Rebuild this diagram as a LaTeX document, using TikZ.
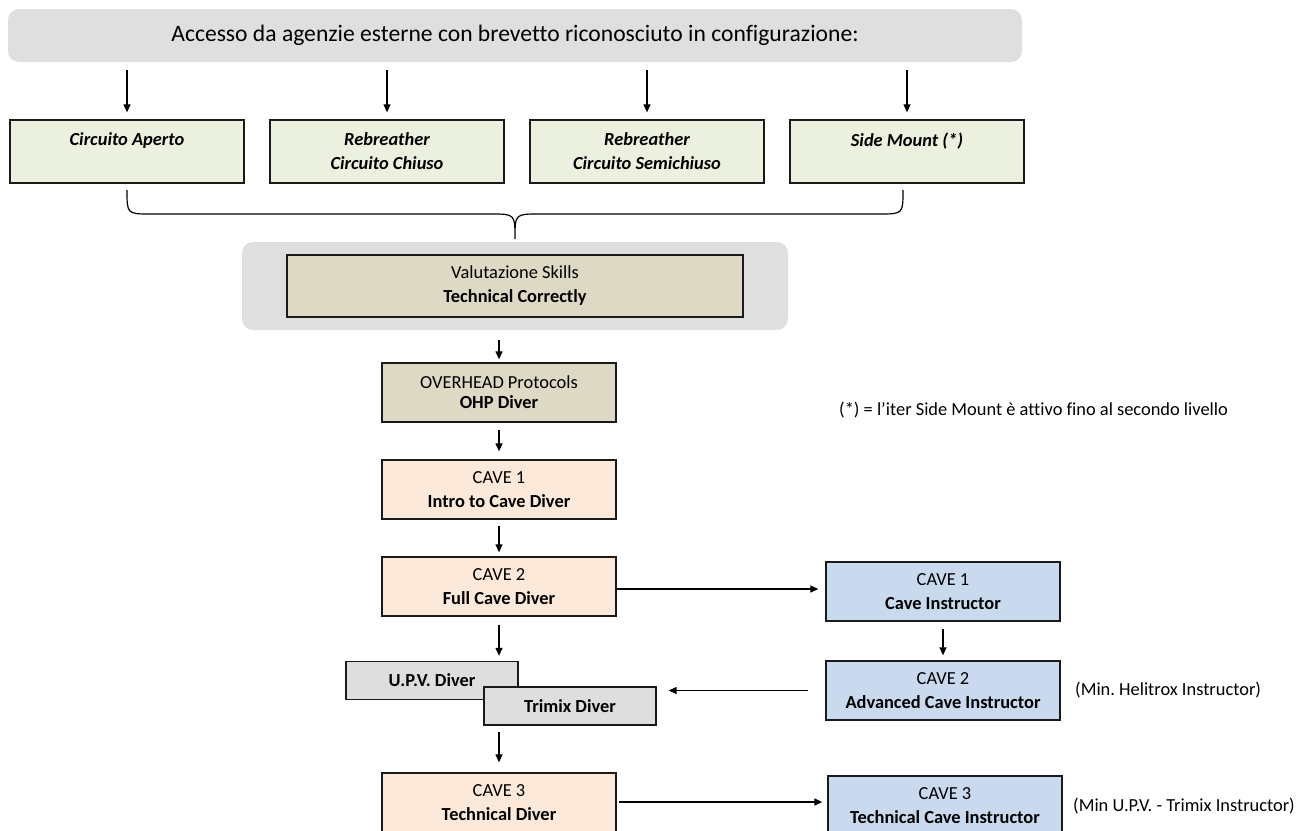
\documentclass[tikz,border=0pt]{standalone}
\usepackage{fontspec}
\setmainfont{Carlito}[Ligatures=NoCommon]
\usetikzlibrary{arrows.meta, positioning}
\definecolor{cpanel}{HTML}{DFDFDF}
\definecolor{colive}{HTML}{EBF1DE}
\definecolor{ctan}{HTML}{DDD9C4}
\definecolor{cpeach}{HTML}{FDE9D9}
\definecolor{cblue}{HTML}{C9DAEF}
\definecolor{cgrey}{HTML}{DEDEDE}
\definecolor{cink}{HTML}{1A1A1A}
\frenchspacing

\begin{document}
\begin{tikzpicture}[
  x=1pt, y=-1pt,
  txt/.style={font=\fontsize{18.4}{24}\selectfont, text=black, align=center},
  box/.style={txt, draw=cink, line width=1.3pt, inner sep=0pt,
              minimum width=234pt, minimum height=59pt},
  entry/.style={box, fill=colive, minimum height=63pt, font=\fontsize{18.4}{24}\selectfont\bfseries\itshape},
  skill/.style={box, fill=ctan},
  cave/.style={box, fill=cpeach},
  instr/.style={box, fill=cblue},
  extra/.style={box, fill=cgrey, minimum width=172pt, minimum height=38pt, font=\fontsize{18.4}{24}\selectfont\bfseries},
  panel/.style={fill=cpanel, rounded corners=11pt},
  note/.style={txt, anchor=west, inner sep=0pt},
  flow/.style={-{Triangle[length=8pt, width=7pt]}, line width=1.2pt, draw=black}
]
\useasboundingbox (0,0) rectangle (1305,830);
\clip (0,0) rectangle (1305,830);

% access banner
\fill[panel] (8,9) rectangle (1022,62);
\node[txt, font=\fontsize{23.6}{28}\selectfont] (acc) at (515,35.5) {Accesso da agenzie esterne con brevetto riconosciuto in configurazione:};
\coordinate (accs) at (515,62);

% entry configurations
\node[entry] (e1) at (127,151.5) {Circuito Aperto\\\phantom{X}};
\node[entry] (e2) at (387,151.5) {Rebreather\\Circuito Chiuso};
\node[entry] (e3) at (647,151.5) {Rebreather\\Circuito Semichiuso};
\node[entry] (e4) at (907,151.5) {Side Mount (*)\\\phantom{X}};
\foreach \e in {e1,e2,e3,e4}
  \draw[flow, shorten <=8pt, shorten >=7pt] (accs -| \e.north) -- (\e.north);

% brace
\draw[line width=1.2pt] (127,190) .. controls (127,214) .. (151,214) -- (491,214)
  .. controls (515,214) .. (515,239) .. controls (515,214) .. (539,214) -- (879,214)
  .. controls (903,214) .. (903,190);

% skills
\fill[panel] (242,242) rectangle (788,330);
\coordinate (pans) at (515,330);
\node[skill, minimum width=456pt, minimum height=62pt] (vsk) at (515,286) {Valutazione Skills\\\textbf{Technical Correctly}};
\node[skill, font=\fontsize{18.4}{20}\selectfont] (ohp) at (499,392.5) {OVERHEAD Protocols\\\textbf{OHP Diver}};
\draw[flow, shorten <=10pt, shorten >=3pt] (pans -| ohp.north) -- (ohp.north);

\node[note] (star) at (839,410) {(*) = l’iter Side Mount è attivo fino al secondo livello};

% cave path
\node[cave] (c1) at (499,489.5) {CAVE 1\\\textbf{Intro to Cave Diver}};
\node[cave] (c2) at (499,586.5) {CAVE 2\\\textbf{Full Cave Diver}};
\node[extra] (upv) at (432,680.5) {U.P.V. Diver};
\node[extra] (tmx) at (570,706) {Trimix Diver};
\node[cave] (c3) at (499,802.5) {CAVE 3\\\textbf{Technical Diver}};
\draw[flow, shorten <=7pt, shorten >=8pt] (ohp) -- (c1);
\draw[flow, shorten <=6pt, shorten >=4pt] (c1) -- (c2);
\draw[flow, shorten <=8pt, shorten >=5pt] (c2.south) -- (c2.south |- upv.north);
\draw[flow, shorten <=6pt, shorten >=10pt] (tmx.south -| c3.north) -- (c3.north);

% instructor path
\node[instr] (i1) at (943,591.5) {CAVE 1\\\textbf{Cave Instructor}};
\node[instr] (i2) at (943,690.5) {CAVE 2\\\textbf{Advanced Cave Instructor}};
\node[instr] (i3) at (945,805.5) {CAVE 3\\\textbf{Technical Cave Instructor}};
\draw[flow, shorten >=7pt] (c2.east |- 0,589) -- (i1.west |- 0,589);
\draw[flow, shorten <=7pt, shorten >=5pt] (i1) -- (i2);
\draw[flow, shorten <=17pt, shorten >=12pt] (i2.west) -- (i2.west -| tmx.east);
\draw[flow, shorten <=2pt, shorten >=5pt] (c3.east |- 0,802) -- (i3.west |- 0,802);

\node[note] (n2) at (1075,690) {(Min. Helitrox Instructor)};
\node[note] (n3) at (1073,806) {(Min U.P.V. - Trimix Instructor)};
\end{tikzpicture}
\end{document}
